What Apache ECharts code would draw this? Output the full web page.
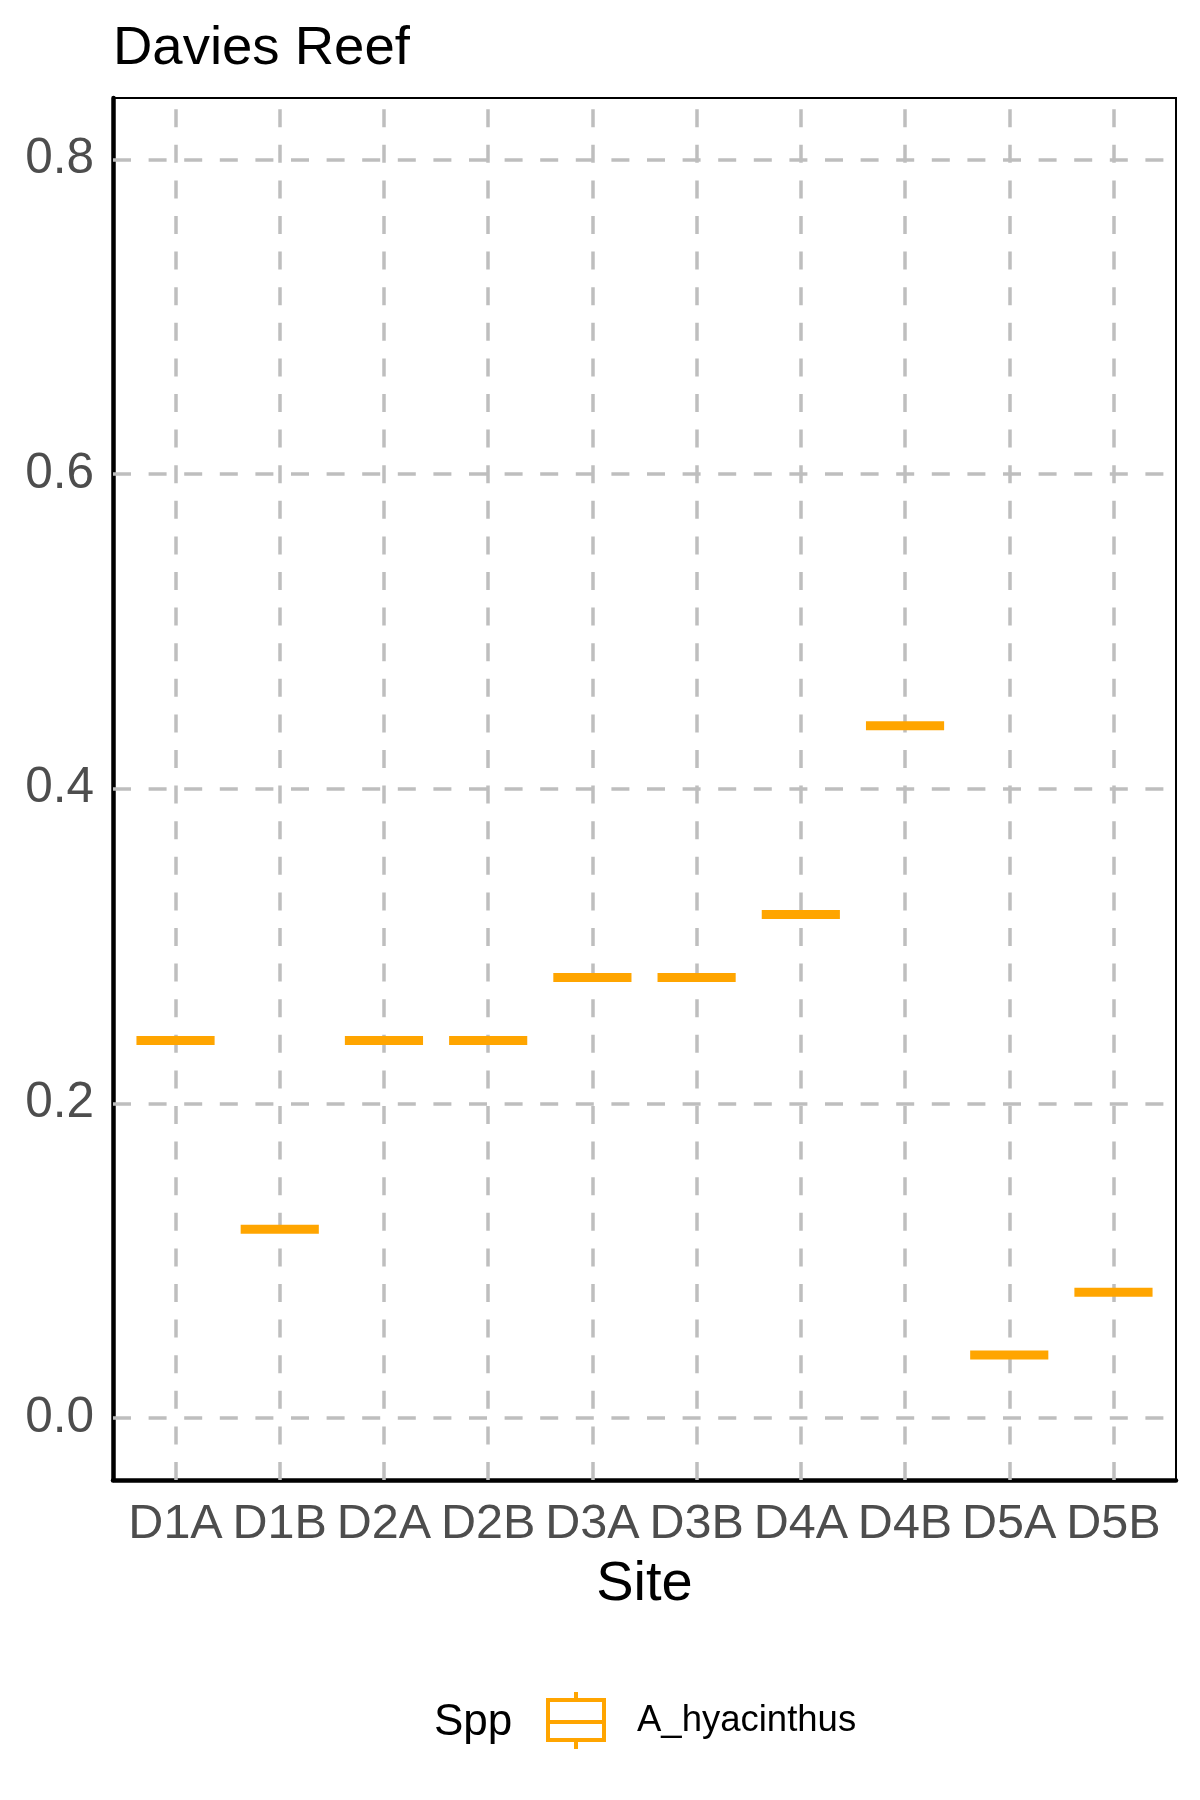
<!DOCTYPE html>
<html>
<head>
<meta charset="utf-8">
<script src="https://cdn.jsdelivr.net/npm/echarts@6/dist/echarts.min.js"></script>
<style>
html,body{margin:0;padding:0;background:#fff;}
#chart{width:1200px;height:1800px;}
</style>
</head>
<body>
<div id="chart"></div>
<script>
// ---- data ----
const titleText = 'Davies Reef';
const sites = ['D1A','D1B','D2A','D2B','D3A','D3B','D4A','D4B','D5A','D5B'];
const values = [0.24, 0.12, 0.24, 0.24, 0.28, 0.28, 0.32, 0.44, 0.04, 0.08];
const yTicks = [0, 0.2, 0.4, 0.6, 0.8];
const seriesName = 'A_hyacinthus';
const legendTitle = 'Spp';
const xTitle = 'Site';

const FONT = '"Liberation Sans", Arial, Helvetica, sans-serif';
const ORANGE = '#FFA500';
const GRID = '#BEBEBE';
const xPos = sites.map((s, i) => i + 1);
const data = values.map((v, i) => [xPos[i], v]);

const chart = echarts.init(document.getElementById('chart'), null, {renderer: 'canvas'});
const dashStyle = {color: GRID, width: 3.5, type: [18, 17.6]};

chart.setOption({
  animation: false,
  backgroundColor: '#ffffff',
  textStyle: {fontFamily: FONT},
  title: {
    text: titleText, left: 108, top: 16,
    textStyle: {fontFamily: FONT, fontSize: 54.5, fontWeight: 'normal', color: '#000'}
  },
  grid: {
    left: 113, right: 24, top: 98, bottom: 320,
    show: true, borderColor: '#000', borderWidth: 2, backgroundColor: 'transparent'
  },
  legend: {
    data: [seriesName],
    left: 546, top: 1690, padding: 0,
    itemWidth: 58, itemHeight: 57,
    icon: 'path://M29,0 L29,8 M1,8 L57,8 L57,48 L1,48 Z M1,30 L57,30 M29,48 L29,57',
    itemStyle: {color: 'rgba(0,0,0,0)', borderColor: ORANGE, borderWidth: 4},
    textStyle: {fontFamily: FONT, fontSize: 36.5, color: '#000', padding: [0, 0, 0, 27]}
  },
  graphic: [{
    type: 'text', left: 434, top: 1723 - 22,
    style: {text: legendTitle, font: '44px ' + FONT, fill: '#000'}
  }],
  xAxis: {
    type: 'value', min: 0.4, max: 10.6,
    name: xTitle, nameLocation: 'middle', nameGap: 77,
    nameTextStyle: {fontFamily: FONT, fontSize: 56, color: '#000'},
    axisLine: {show: true, onZero: false, lineStyle: {color: '#000', width: 4.5}},
    axisTick: {show: false},
    splitLine: {show: false},
    axisLabel: {
      customValues: xPos, margin: 20,
      fontFamily: FONT, fontSize: 48.5, color: '#4D4D4D',
      formatter: v => sites[Math.round(v) - 1] || ''
    }
  },
  yAxis: {
    type: 'value', min: -0.0394, max: 0.839,
    axisLine: {show: true, onZero: false, lineStyle: {color: '#000', width: 4.5}},
    axisTick: {show: false},
    splitLine: {show: false},
    axisLabel: {
      customValues: yTicks, margin: 19,
      fontFamily: FONT, fontSize: 49.5, color: '#4D4D4D',
      formatter: v => Number(v).toFixed(1)
    }
  },
  series: [
    {
      type: 'line', data: [], silent: true, symbol: 'none', z: 1,
      markLine: {
        silent: true, symbol: ['none', 'none'], animation: false,
        label: {show: false},
        lineStyle: dashStyle,
        data: yTicks.map(t => ({yAxis: t})).concat(xPos.map(x => ({xAxis: x})))
      }
    },
    {
      name: seriesName, type: 'custom', z: 5,
      itemStyle: {color: ORANGE},
      data: data,
      renderItem: function (params, api) {
        const x = api.value(0), y = api.value(1);
        const p1 = api.coord([x - 0.375, y]);
        const p2 = api.coord([x + 0.375, y]);
        return {
          type: 'rect',
          shape: {x: p1[0], y: p1[1] - 4.5, width: p2[0] - p1[0], height: 9},
          style: {fill: ORANGE}
        };
      }
    }
  ]
});
</script>
</body>
</html>
